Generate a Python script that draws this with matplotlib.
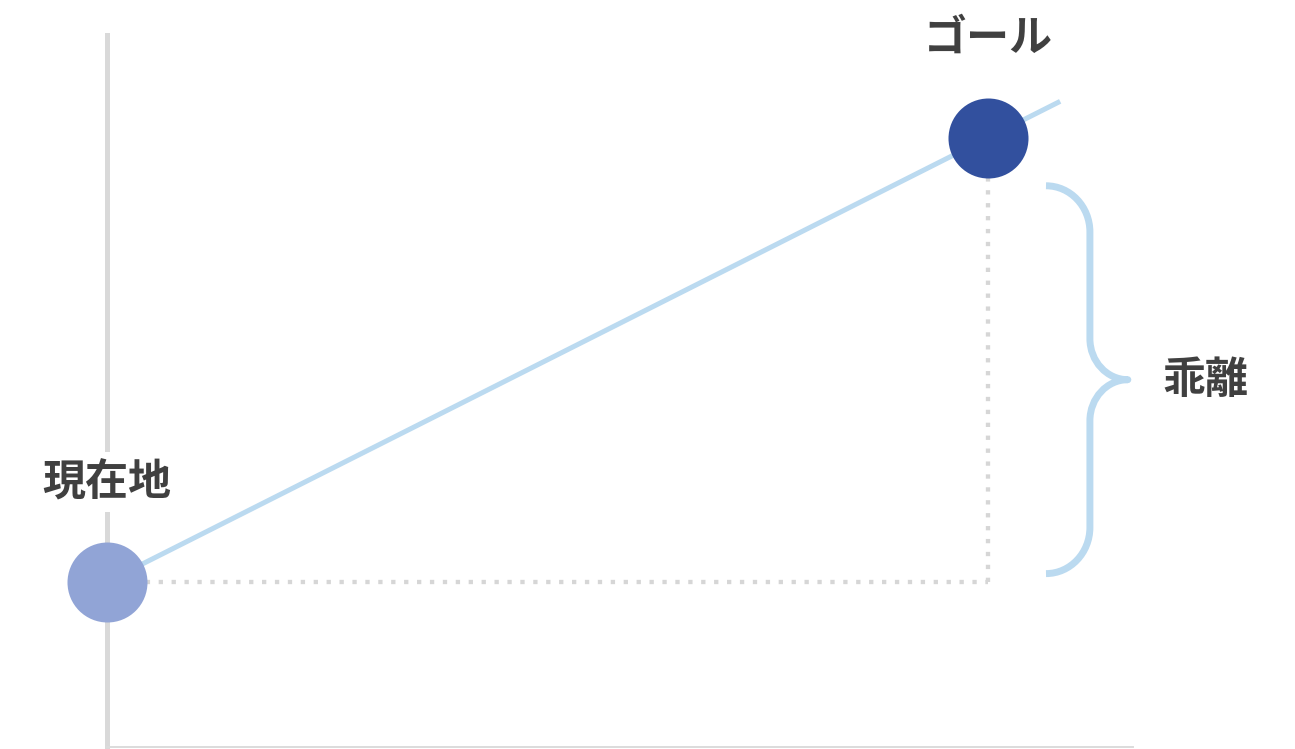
import numpy as np
import matplotlib
matplotlib.use("Agg")
import matplotlib.pyplot as plt
from matplotlib.path import Path
from matplotlib.patches import PathPatch

plt.rcParams['font.family'] = ['Noto Sans CJK JP', 'DejaVu Sans']

# ---- data ----
point_labels = ["現在地", "ゴール"]
point_x = [0.0, 8.59]
point_y = [1.61, 5.94]
point_colors = ["#91a4d6", "#32509e"]
trend_end_x = 9.29
gap_label = "乖離"

# ---- figure ----
W, H, DPI = 1295, 749, 100
fig = plt.figure(figsize=(W / DPI, H / DPI), dpi=DPI)
ax = fig.add_axes([0, 0, 1, 1])
s = 102.6  # px per unit
ax.set_xlim(-107 / s, (W - 107) / s)
ax.set_ylim(-2 / s, (H - 2) / s)
ax.set_xticks([])
ax.set_yticks([])
for sp in ["top", "right"]:
    ax.spines[sp].set_visible(False)
ax.spines["left"].set_position(("data", 0))
ax.spines["left"].set_bounds(-0.05, 6.94)
ax.spines["left"].set_color("#d9d9d9")
ax.spines["left"].set_linewidth(3.6)
ax.spines["bottom"].set_position(("data", 0))
ax.spines["bottom"].set_bounds(0, 10)
ax.spines["bottom"].set_color("#dcdcdc")
ax.spines["bottom"].set_linewidth(1.4)

x0, x1 = point_x
y0, y1 = point_y
slope = (y1 - y0) / (x1 - x0)

# trend line
tx = np.array([x0, trend_end_x])
ty = y0 + slope * (tx - x0)
ax.plot(tx, ty, color="#bbdaf0", lw=3.6, solid_capstyle="butt", zorder=3)

# dotted guides
dot = dict(color="#d6d6d6", lw=3.1, linestyle=(0, (1, 2)), dash_capstyle="butt", zorder=2)
ax.plot([x0, x1], [y0, y0], **dot)
ax.plot([x1, x1], [y0, y1], **dot)

# points
for xv, yv, c in zip(point_x, point_y, point_colors):
    ax.plot([xv], [yv], "o", ms=57.6, color=c, mec="none", zorder=4)

# labels
txt = dict(fontsize=31, fontweight="bold", color="#404040", ha="center", va="center", zorder=5)
ax.text(x0, y0 + 0.97, point_labels[0],
        bbox=dict(facecolor="white", edgecolor="none", pad=6), **txt)
ax.text(x1, y1 + 0.975, point_labels[1], **txt)

# brace
top = y1 - 0.47
bot = y0 + 0.08
mid = (top + bot) / 2
xl, xv, xt = x1 + 0.562, x1 + 0.99, x1 + 1.36
r1a, r1b = xv - xl, 0.45
r2a, r2b = xt - xv, 0.40
k = 0.552
verts = [
    (xl, top),
    (xl + k * r1a, top), (xv, top - r1b + k * r1b), (xv, top - r1b),
    (xv, mid + r2b),
    (xv, mid + r2b - k * r2b), (xt - k * r2a, mid), (xt, mid),
    (xt - k * r2a, mid), (xv, mid - r2b + k * r2b), (xv, mid - r2b),
    (xv, bot + r1b),
    (xv, bot + r1b - k * r1b), (xl + k * r1a, bot), (xl, bot),
]
codes = [Path.MOVETO,
         Path.CURVE4, Path.CURVE4, Path.CURVE4,
         Path.LINETO,
         Path.CURVE4, Path.CURVE4, Path.CURVE4,
         Path.CURVE4, Path.CURVE4, Path.CURVE4,
         Path.LINETO,
         Path.CURVE4, Path.CURVE4, Path.CURVE4]
ax.add_patch(PathPatch(Path(verts, codes), facecolor="none", edgecolor="#bbdaf0",
                       lw=5.0, capstyle="butt", joinstyle="round", zorder=3))
ax.text(x1 + 2.12, mid, gap_label, **txt)

fig.savefig("out.png", dpi=DPI, facecolor="white")
